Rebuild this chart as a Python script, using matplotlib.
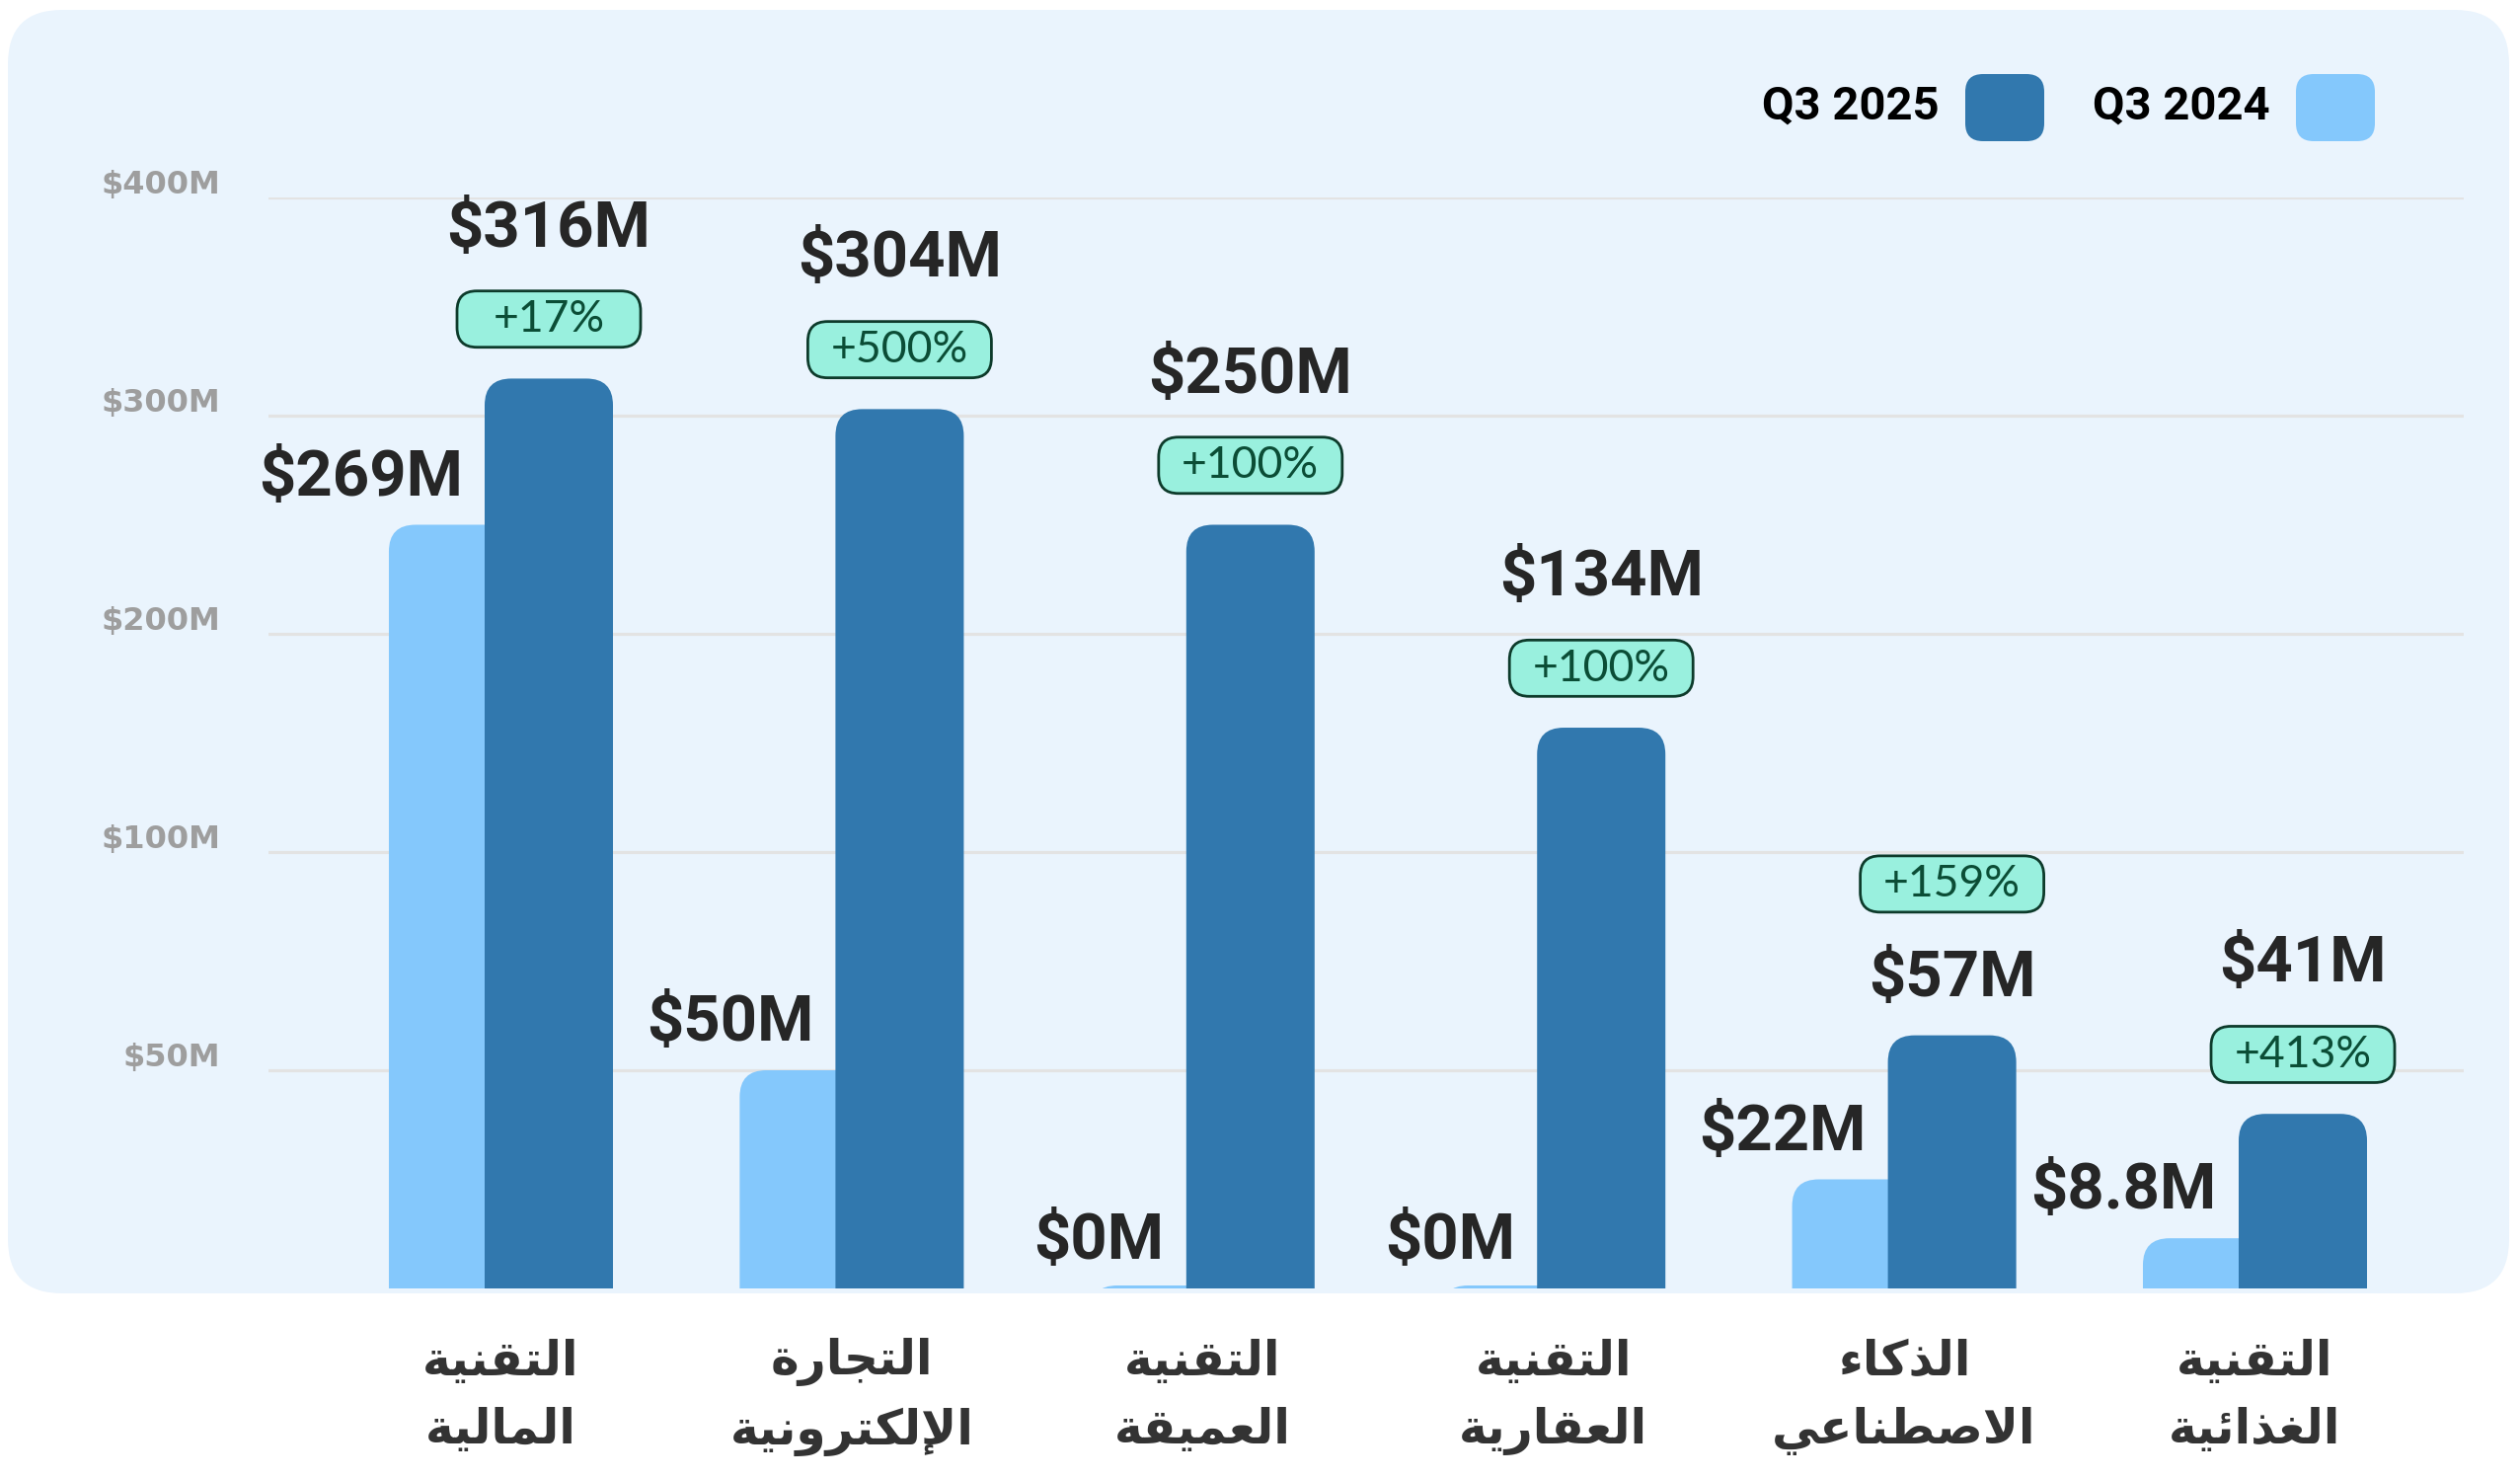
import numpy as np
import matplotlib
matplotlib.use('Agg')
import matplotlib.pyplot as plt
from matplotlib.patches import FancyBboxPatch
from matplotlib.transforms import IdentityTransform, ScaledTranslation

# ---- data ----
categories = ['التقنية المالية', 'التجارة الإلكترونية', 'التقنية العميقة',
              'التقنية العقارية', 'الذكاء الاصطناعي', 'التقنية الغذائية']
series_names = ['Q3 2025', 'Q3 2024']
q3_2024 = [250, 50, 0, 0, 25, 11.5]        # bar heights, $M
q3_2025 = [317, 303, 250, 157, 58, 40]
q3_2024_labels = ['$269M', '$50M', '$0M', '$0M', '$22M', '$8.8M']
q3_2025_labels = ['$316M', '$304M', '$250M', '$134M', '$57M', '$41M']
growth = ['+17%', '+500%', '+100%', '+100%', '+159%', '+413%']
y_ticks = [50, 100, 200, 300, 400]
y_tick_labels = ['$50M', '$100M', '$200M', '$300M', '$400M']
scale_steps = [0, 50, 100, 200, 300, 400]   # evenly spaced on the axis

DARK = '#3178AE'
LIGHT = '#84C8FC'
PANEL = '#EAF4FD'

# ---- arabic shaping (matplotlib has no complex text layout) ----
FORMS = {  # isolated, final, initial, medial
    'ء': ('\uFE80', None, None, None),
    'ا': ('\uFE8D', '\uFE8E', None, None),
    'إ': ('\uFE87', '\uFE88', None, None),
    'ئ': ('\uFE89', '\uFE8A', '\uFE8B', '\uFE8C'),
    'ة': ('\uFE93', '\uFE94', None, None),
    'ت': ('\uFE95', '\uFE96', '\uFE97', '\uFE98'),
    'ج': ('\uFE9D', '\uFE9E', '\uFE9F', '\uFEA0'),
    'ذ': ('\uFEAB', '\uFEAC', None, None),
    'ر': ('\uFEAD', '\uFEAE', None, None),
    'ص': ('\uFEB9', '\uFEBA', '\uFEBB', '\uFEBC'),
    'ط': ('\uFEC1', '\uFEC2', '\uFEC3', '\uFEC4'),
    'ع': ('\uFEC9', '\uFECA', '\uFECB', '\uFECC'),
    'غ': ('\uFECD', '\uFECE', '\uFECF', '\uFED0'),
    'ق': ('\uFED5', '\uFED6', '\uFED7', '\uFED8'),
    'ك': ('\uFED9', '\uFEDA', '\uFEDB', '\uFEDC'),
    'ل': ('\uFEDD', '\uFEDE', '\uFEDF', '\uFEE0'),
    'م': ('\uFEE1', '\uFEE2', '\uFEE3', '\uFEE4'),
    'ن': ('\uFEE5', '\uFEE6', '\uFEE7', '\uFEE8'),
    'و': ('\uFEED', '\uFEEE', None, None),
    'ي': ('\uFEF1', '\uFEF2', '\uFEF3', '\uFEF4'),
}
LAM_ALEF = {'ا': ('\uFEFB', '\uFEFC', None, None),
            'إ': ('\uFEF9', '\uFEFA', None, None)}


def shape(word):
    toks = []
    i = 0
    while i < len(word):
        c = word[i]
        if c == 'ل' and i + 1 < len(word) and word[i + 1] in LAM_ALEF:
            toks.append(LAM_ALEF[word[i + 1]])
            i += 2
            continue
        toks.append(FORMS.get(c, (c, None, None, None)))
        i += 1
    out = []
    for k, f in enumerate(toks):
        prev = toks[k - 1] if k > 0 else None
        nxt = toks[k + 1] if k + 1 < len(toks) else None
        jp = prev is not None and prev[2] is not None and f[1] is not None
        jn = nxt is not None and f[2] is not None and nxt[1] is not None
        if jp and jn:
            out.append(f[3])
        elif jp:
            out.append(f[1])
        elif jn:
            out.append(f[2])
        else:
            out.append(f[0])
    return ''.join(reversed(out))


def fwd(v):
    return np.interp(v, scale_steps, np.arange(len(scale_steps)))


def inv(v):
    return np.interp(v, np.arange(len(scale_steps)), scale_steps)


W, H = 2553, 1497
fig = plt.figure(figsize=(W / 100, H / 100), dpi=100)
fig.patch.set_facecolor('white')

# rounded panel
panel = FancyBboxPatch((8, H - 1310), 2534, 1300, boxstyle='round,pad=0,rounding_size=55',
                       transform=IdentityTransform(), fc=PANEL, ec='none', zorder=0)
fig.add_artist(panel)

ax = fig.add_axes([272 / W, (H - 1305) / H, (2496 - 272) / W, (1305 - 200) / H])
ax.set_facecolor('none')
ax.set_yscale('function', functions=(fwd, inv))
ax.set_ylim(0, 400)
ax.set_xlim(-0.6626, 5.5951)
for s in ax.spines.values():
    s.set_visible(False)

ax.set_yticks(y_ticks)
ax.set_yticklabels(y_tick_labels, fontsize=23, fontweight='bold', color='#9E9E9E',
                   family='DejaVu Sans')
ax.tick_params(axis='y', length=0, pad=35)
up = ScaledTranslation(0, 0.16, fig.dpi_scale_trans)
for lab in ax.get_yticklabels():
    lab.set_transform(lab.get_transform() + up)
ax.yaxis.grid(True, color='#E3E3E3', lw=2.3)
ax.set_axisbelow(True)

x = np.arange(len(categories))
bw = 0.3658
off = 0.1365
ax.set_xticks(x)
ax.set_xticklabels(['\n'.join(shape(w) for w in c.split(' ')) for c in categories],
                   fontsize=35, fontweight='bold', color='#333333', family='DejaVu Sans',
                   linespacing=1.55)
ax.tick_params(axis='x', length=0, pad=36)

light_bars = ax.bar(x - off, q3_2024, bw, color=LIGHT)
dark_bars = ax.bar(x + off, q3_2025, bw, color=DARK)


def round_top(rect, color, z):
    bb = rect.get_window_extent()
    r = 27
    h = max(bb.height, 3)
    p = FancyBboxPatch((bb.x0, bb.y0 - r), bb.width, h + r,
                       boxstyle=f'round,pad=0,rounding_size={r}',
                       transform=IdentityTransform(), fc=color, ec='none', zorder=z)
    p.set_clip_path(ax.patch)
    ax.add_artist(p)
    rect.set_visible(False)
    return bb


for rect in light_bars:
    round_top(rect, LIGHT, 2)

VAL_FONT = dict(fontsize=47, fontweight='bold', color='#262626', family='Roboto')

badge_on_top = [False, False, False, False, True, False]
for i, rect in enumerate(dark_bars):
    bb = round_top(rect, DARK, 3)
    lab_dy, badge_dy = (41, 110) if badge_on_top[i] else (109, 43)
    ax.annotate(q3_2025_labels[i], (x[i] + off, q3_2025[i]), xytext=(0, lab_dy),
                textcoords='offset points', ha='center', va='center', **VAL_FONT)
    cx = (bb.x0 + bb.x1) / 2
    cy = bb.y1 + badge_dy * 100 / 72
    badge = FancyBboxPatch((cx - 93, cy - 28), 186, 57, boxstyle='round,pad=0,rounding_size=20',
                           transform=IdentityTransform(), fc='#99F0DE', ec='#0D3B2B', lw=2,
                           zorder=5, clip_on=False)
    ax.add_artist(badge)
    ax.annotate(growth[i], (x[i] + off, q3_2025[i]), xytext=(0, badge_dy),
                textcoords='offset points', ha='center', va='center', zorder=6,
                fontsize=32, color='#0B4D36', family='Lato')

for i in range(len(categories)):
    ax.annotate(q3_2024_labels[i], (x[i] + off - bw / 2, q3_2024[i]), xytext=(-16, 34),
                textcoords='offset points', ha='right', va='center', **VAL_FONT)

# legend (text left of rounded swatch)
for name, color, sx in zip(series_names, [DARK, LIGHT], [1991, 2326]):
    sw = FancyBboxPatch((sx, H - 143), 80, 68, boxstyle='round,pad=0,rounding_size=18',
                        transform=IdentityTransform(), fc=color, ec='none', zorder=5)
    fig.add_artist(sw)
    fig.text((sx - 26) / W, (H - 108) / H, name, ha='right', va='center',
             fontsize=34, fontweight='bold', color='black', family='Roboto')

fig.savefig('out.png', dpi=100, facecolor='white')
